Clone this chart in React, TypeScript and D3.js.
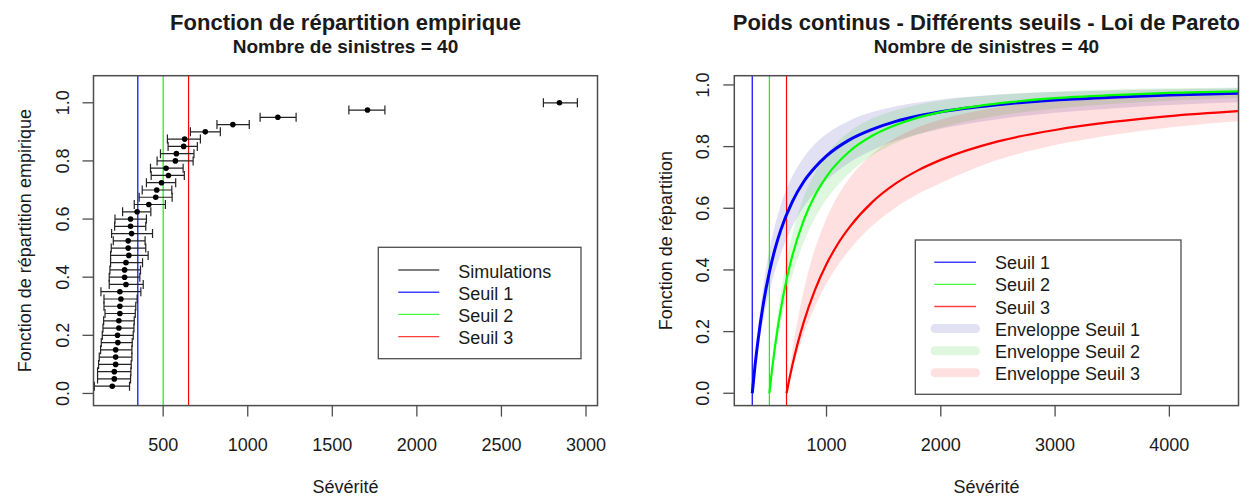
import React from "react";
import * as d3 from "d3";

// ---------- Data ----------
const thresholds = [350, 500, 650];
const thresholdColors = ["#0000FF", "#00FF00", "#FF0000"];
const envelopeColors = ["rgba(70,70,180,0.16)", "rgba(30,200,30,0.14)", "rgba(255,0,0,0.12)"];

// Left chart: empirical distribution (40 claims)
const ecdfProb = [
  0.025, 0.05, 0.075, 0.1, 0.125, 0.15, 0.175, 0.2, 0.225, 0.25,
  0.275, 0.3, 0.325, 0.35, 0.375, 0.4, 0.425, 0.45, 0.475, 0.5,
  0.525, 0.55, 0.575, 0.6, 0.625, 0.65, 0.675, 0.7, 0.725, 0.75,
  0.775, 0.8, 0.825, 0.85, 0.875, 0.9, 0.925, 0.95, 0.975, 1.0,
];
const sevPoint = [199, 211, 211, 219, 219, 219, 232, 230, 238, 238, 244, 244, 250, 244, 280, 272, 272, 280, 297, 293, 293, 313, 307, 307, 346, 415, 456, 462, 490, 531, 517, 572, 578, 621, 627, 749, 912, 1178, 1708, 2843];
const sevLow = [93, 112, 112, 118, 122, 130, 134, 140, 144, 148, 156, 150, 150, 132, 181, 181, 185, 189, 189, 193, 205, 195, 213, 215, 260, 329, 358, 376, 401, 429, 425, 464, 484, 529, 525, 661, 818, 1073, 1598, 2748];
const sevHigh = [301, 307, 309, 311, 315, 315, 317, 323, 327, 329, 335, 338, 346, 368, 382, 362, 366, 378, 411, 397, 393, 437, 397, 401, 427, 513, 553, 551, 574, 625, 618, 677, 682, 702, 720, 838, 1009, 1286, 1811, 2949];
const leftXTicks = [500, 1000, 1500, 2000, 2500, 3000];
const yTicks = [0, 0.2, 0.4, 0.6, 0.8, 1.0];

// Right chart: Pareto fitted CDFs with envelopes
const seuil1X = [350, 375, 400, 450, 500, 550, 600, 700, 800, 900, 1000, 1200, 1400, 1600, 1800, 2000, 2500, 3000, 3500, 4000, 4600];
const seuil1F = [0, 0.092, 0.17, 0.297, 0.393, 0.469, 0.53, 0.621, 0.686, 0.733, 0.77, 0.822, 0.856, 0.881, 0.899, 0.913, 0.936, 0.951, 0.96, 0.967, 0.973];
const seuil1Lo = [0, 0.074, 0.139, 0.245, 0.329, 0.397, 0.453, 0.54, 0.604, 0.653, 0.691, 0.748, 0.788, 0.818, 0.84, 0.858, 0.889, 0.91, 0.924, 0.935, 0.944];
const seuil1Hi = [0, 0.114, 0.208, 0.356, 0.464, 0.547, 0.611, 0.703, 0.765, 0.809, 0.841, 0.884, 0.912, 0.93, 0.943, 0.953, 0.968, 0.977, 0.982, 0.986, 0.989];

const seuil2X = [500, 525, 550, 600, 650, 700, 800, 900, 1000, 1200, 1400, 1600, 1800, 2000, 2500, 3000, 3500, 4000, 4600];
const seuil2F = [0, 0.082, 0.154, 0.273, 0.368, 0.445, 0.561, 0.643, 0.703, 0.784, 0.835, 0.869, 0.894, 0.912, 0.94, 0.957, 0.967, 0.974, 0.979];
const seuil2Lo = [0, 0.067, 0.127, 0.229, 0.313, 0.382, 0.489, 0.569, 0.629, 0.714, 0.771, 0.811, 0.84, 0.862, 0.9, 0.923, 0.938, 0.949, 0.958];
const seuil2Hi = [0, 0.1, 0.185, 0.324, 0.431, 0.515, 0.636, 0.717, 0.775, 0.848, 0.891, 0.918, 0.936, 0.949, 0.969, 0.979, 0.985, 0.989, 0.992];

const seuil3X = [650, 675, 700, 750, 800, 900, 1000, 1100, 1200, 1400, 1600, 1800, 2000, 2500, 3000, 3500, 4000, 4600];
const seuil3F = [0, 0.046, 0.089, 0.165, 0.23, 0.336, 0.419, 0.485, 0.538, 0.62, 0.679, 0.723, 0.757, 0.817, 0.854, 0.88, 0.899, 0.915];
const seuil3Lo = [0, 0.038, 0.073, 0.136, 0.191, 0.282, 0.356, 0.415, 0.465, 0.543, 0.601, 0.646, 0.682, 0.757, 0.805, 0.838, 0.862, 0.882];
const seuil3Hi = [0, 0.071, 0.135, 0.243, 0.333, 0.47, 0.568, 0.641, 0.697, 0.776, 0.827, 0.863, 0.888, 0.928, 0.949, 0.962, 0.971, 0.978];
const rightXTicks = [1000, 2000, 3000, 4000];

const leftLegend = ["Simulations", "Seuil 1", "Seuil 2", "Seuil 3"];
const rightLegend = ["Seuil 1", "Seuil 2", "Seuil 3", "Enveloppe Seuil 1", "Enveloppe Seuil 2", "Enveloppe Seuil 3"];

// ---------- Layout ----------
const FONT = "'Liberation Sans', Arial, Helvetica, sans-serif";
const TXT = "#1a1a1a";
const BOX = "#4d4d4d";

const L = { x0: 93.5, x1: 597.5, y0: 75.7, y1: 405.6 };
const R = { x0: 734.3, x1: 1238.5, y0: 75.7, y1: 405.6 };

const xL = d3.scaleLinear().domain([88, 3068]).range([L.x0, L.x1]);
const yL = d3.scaleLinear().domain([-0.0418, 1.0932]).range([L.y1, L.y0]);
const xR = d3.scaleLinear().domain([193, 4605]).range([R.x0, R.x1]);
const yR = d3.scaleLinear().domain([-0.04, 1.03]).range([R.y1, R.y0]);

const TICK = 11;

function LeftChart() {
  const fmt = d3.format(".1f");
  return (
    <g>
      <defs>
        <clipPath id="clipL">
          <rect x={L.x0} y={L.y0} width={L.x1 - L.x0} height={L.y1 - L.y0} />
        </clipPath>
      </defs>
      {/* titles */}
      <text x={(L.x0 + L.x1) / 2} y={30} textAnchor="middle" fontFamily={FONT} fontWeight="bold" fontSize={22} fill={TXT}>
        Fonction de répartition empirique
      </text>
      <text x={(L.x0 + L.x1) / 2} y={53} textAnchor="middle" fontFamily={FONT} fontWeight="bold" fontSize={19} fill={TXT}>
        Nombre de sinistres = 40
      </text>
      {/* threshold lines */}
      <g clipPath="url(#clipL)">
        {thresholds.map((t, i) => (
          <line key={i} x1={xL(t)} x2={xL(t)} y1={L.y0} y2={L.y1} stroke={thresholdColors[i]} strokeWidth={1.2} />
        ))}
        {/* error bars */}
        {ecdfProb.map((p, i) => {
          const y = yL(p);
          return (
            <g key={i} stroke="#222" strokeWidth={1.2}>
              <line x1={xL(sevLow[i])} x2={xL(sevHigh[i])} y1={y} y2={y} />
              <line x1={xL(sevLow[i])} x2={xL(sevLow[i])} y1={y - 4.5} y2={y + 4.5} />
              <line x1={xL(sevHigh[i])} x2={xL(sevHigh[i])} y1={y - 4.5} y2={y + 4.5} />
            </g>
          );
        })}
        {ecdfProb.map((p, i) => (
          <circle key={i} cx={xL(sevPoint[i])} cy={yL(p)} r={2.8} fill="#000" />
        ))}
      </g>
      {/* box */}
      <rect x={L.x0} y={L.y0} width={L.x1 - L.x0} height={L.y1 - L.y0} fill="none" stroke={BOX} strokeWidth={1.5} />
      {/* x axis */}
      {leftXTicks.map((t) => (
        <g key={t}>
          <line x1={xL(t)} x2={xL(t)} y1={L.y1} y2={L.y1 + TICK} stroke={BOX} strokeWidth={1.3} />
          <text x={xL(t)} y={451} textAnchor="middle" fontFamily={FONT} fontSize={18} fill={TXT}>{t}</text>
        </g>
      ))}
      {/* y axis */}
      {yTicks.map((t) => (
        <g key={t}>
          <line x1={L.x0 - TICK} x2={L.x0} y1={yL(t)} y2={yL(t)} stroke={BOX} strokeWidth={1.3} />
          <text transform={`translate(${L.x0 - 25},${yL(t)}) rotate(-90)`} textAnchor="middle" fontFamily={FONT} fontSize={18} fill={TXT}>{fmt(t)}</text>
        </g>
      ))}
      <text x={(L.x0 + L.x1) / 2} y={493} textAnchor="middle" fontFamily={FONT} fontSize={18} fill={TXT}>Sévérité</text>
      <text transform={`translate(31,${(L.y0 + L.y1) / 2}) rotate(-90)`} textAnchor="middle" fontFamily={FONT} fontSize={18} fill={TXT}>
        Fonction de répartition empirique
      </text>
      {/* legend */}
      <rect x={378.3} y={247.3} width={581 - 378.3} height={358.7 - 247.3} fill="#fff" stroke={BOX} strokeWidth={1.3} />
      {leftLegend.map((lab, i) => {
        const y = 270 + i * 22.2;
        const col = i === 0 ? "#555" : thresholdColors[i - 1];
        return (
          <g key={lab}>
            <line x1={398.3} x2={439.3} y1={y} y2={y} stroke={col} strokeWidth={1.4} opacity={i === 0 ? 1 : 0.75} />
            <text x={458.3} y={y + 7.5} fontFamily={FONT} fontSize={18} fill={TXT}>{lab}</text>
          </g>
        );
      })}
    </g>
  );
}

function RightChart() {
  const fmt = d3.format(".1f");
  const series = [
    { x: seuil1X, f: seuil1F, lo: seuil1Lo, hi: seuil1Hi, w: 3 },
    { x: seuil2X, f: seuil2F, lo: seuil2Lo, hi: seuil2Hi, w: 2.2 },
    { x: seuil3X, f: seuil3F, lo: seuil3Lo, hi: seuil3Hi, w: 2.2 },
  ];
  const line = d3
    .line<[number, number]>()
    .x((d) => xR(d[0]))
    .y((d) => yR(d[1]))
    .curve(d3.curveMonotoneX);
  const area = d3
    .area<[number, number, number]>()
    .x((d) => xR(d[0]))
    .y0((d) => yR(d[1]))
    .y1((d) => yR(d[2]))
    .curve(d3.curveMonotoneX);
  return (
    <g>
      <defs>
        <clipPath id="clipR">
          <rect x={R.x0} y={R.y0} width={R.x1 - R.x0} height={R.y1 - R.y0} />
        </clipPath>
      </defs>
      <text x={(R.x0 + R.x1) / 2} y={30} textAnchor="middle" fontFamily={FONT} fontWeight="bold" fontSize={22} fill={TXT}>
        Poids continus - Différents seuils - Loi de Pareto
      </text>
      <text x={(R.x0 + R.x1) / 2} y={53} textAnchor="middle" fontFamily={FONT} fontWeight="bold" fontSize={19} fill={TXT}>
        Nombre de sinistres = 40
      </text>
      <g clipPath="url(#clipR)">
        {series.map((s, i) => (
          <path
            key={"env" + i}
            d={area(s.x.map((x, j) => [x, s.lo[j], s.hi[j]] as [number, number, number])) || ""}
            fill={envelopeColors[i]}
            stroke="none"
          />
        ))}
        {thresholds.map((t, i) => (
          <line key={"t" + i} x1={xR(t)} x2={xR(t)} y1={R.y0} y2={R.y1} stroke={thresholdColors[i]} strokeWidth={1.2} />
        ))}
        {series.map((s, i) => (
          <path
            key={"c" + i}
            d={line(s.x.map((x, j) => [x, s.f[j]] as [number, number])) || ""}
            fill="none"
            stroke={thresholdColors[i]}
            strokeWidth={s.w}
          />
        ))}
      </g>
      <rect x={R.x0} y={R.y0} width={R.x1 - R.x0} height={R.y1 - R.y0} fill="none" stroke={BOX} strokeWidth={1.5} />
      {rightXTicks.map((t) => (
        <g key={t}>
          <line x1={xR(t)} x2={xR(t)} y1={R.y1} y2={R.y1 + TICK} stroke={BOX} strokeWidth={1.3} />
          <text x={xR(t)} y={451} textAnchor="middle" fontFamily={FONT} fontSize={18} fill={TXT}>{t}</text>
        </g>
      ))}
      {yTicks.map((t) => (
        <g key={t}>
          <line x1={R.x0 - TICK} x2={R.x0} y1={yR(t)} y2={yR(t)} stroke={BOX} strokeWidth={1.3} />
          <text transform={`translate(${R.x0 - 25},${yR(t)}) rotate(-90)`} textAnchor="middle" fontFamily={FONT} fontSize={18} fill={TXT}>{fmt(t)}</text>
        </g>
      ))}
      <text x={(R.x0 + R.x1) / 2} y={493} textAnchor="middle" fontFamily={FONT} fontSize={18} fill={TXT}>Sévérité</text>
      <text transform={`translate(${R.x0 - 62.3},${(R.y0 + R.y1) / 2}) rotate(-90)`} textAnchor="middle" fontFamily={FONT} fontSize={18} fill={TXT}>
        Fonction de répartition
      </text>
      {/* legend */}
      <rect x={915.3} y={240} width={1181 - 915.3} height={394.3 - 240} fill="#fff" stroke={BOX} strokeWidth={1.3} />
      {rightLegend.map((lab, i) => {
        const y = 262.3 + i * 22.1;
        const isEnv = i >= 3;
        const k = i % 3;
        return (
          <g key={lab}>
            {isEnv ? (
              <line x1={935} x2={975.5} y1={y} y2={y} stroke={envelopeColors[k]} strokeWidth={9} strokeLinecap="round" />
            ) : (
              <line x1={934.3} x2={976} y1={y} y2={y} stroke={thresholdColors[k]} strokeWidth={1.4} opacity={0.75} />
            )}
            <text x={995} y={y + 7} fontFamily={FONT} fontSize={18} fill={TXT}>{lab}</text>
          </g>
        );
      })}
    </g>
  );
}

export default function App() {
  return (
    <svg
      width={1250}
      height={496}
      viewBox="0 0 1250 496"
      style={{ position: "absolute", left: 0, top: 0, background: "#fff" }}
    >
      <rect x={0} y={0} width={1250} height={496} fill="#fff" />
      <LeftChart />
      <RightChart />
    </svg>
  );
}
